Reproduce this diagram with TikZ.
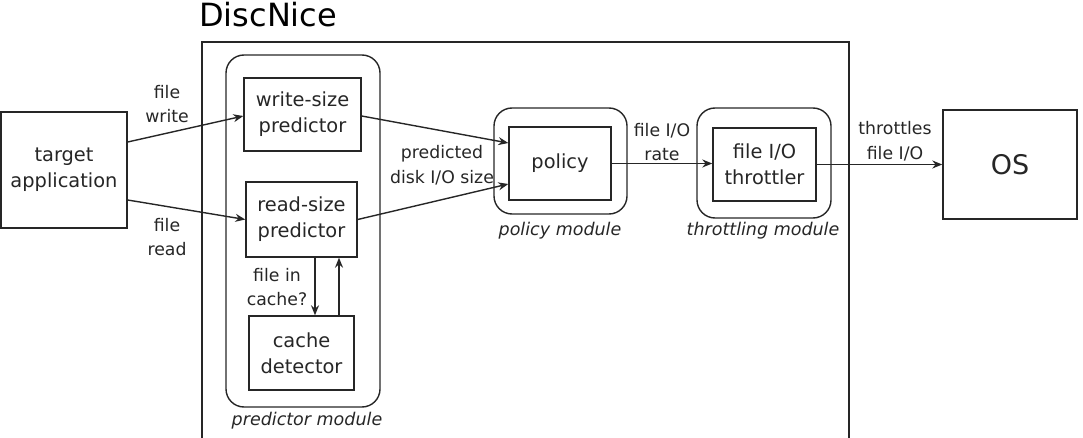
\documentclass[tikz,border=0pt]{standalone}
\usepackage{fontspec}
\setmainfont{DejaVu Sans}
\usetikzlibrary{arrows.meta,calc}
\definecolor{ink}{HTML}{262626}
\tikzset{
  blk/.style={draw=ink, line width=1.4pt, rectangle, inner sep=0pt, align=center,
    text=ink, font=\fontsize{19.4}{26}\selectfont},
  modbox/.style={draw=ink, line width=1.4pt, rounded corners=18pt},
  lbl/.style={inner sep=0pt, align=center, text=ink, font=\fontsize{17.3}{24.5}\selectfont},
  modlbl/.style={inner sep=0pt, text=ink, font=\fontsize{17.5}{22}\selectfont\itshape},
  conn/.style={draw=ink, line width=1.4pt, -{Stealth[length=10pt,width=8pt]}},
}
\begin{document}
\begin{tikzpicture}[x=1pt,y=-1pt]
\useasboundingbox (0,0) rectangle (1083,438);
% outer system box (open at bottom)
\draw[ink, line width=1.4pt] (202,445) -- (202,42) -- (849,42) -- (849,445);
\node[anchor=base west, inner sep=0pt, font=\fontsize{32}{36}\selectfont] (title) at (199,27) {DiscNice};
% module frames
\draw[modbox] (226,55) rectangle (380,407);
\draw[modbox] (494,108) rectangle (627,214);
\draw[modbox] (697,108) rectangle (831,218);
% blocks
\node[blk, minimum width=126pt, minimum height=116pt] (target) at (64,170) {target\\application};
\node[blk, minimum width=117pt, minimum height=73pt] (write) at (302.5,114.5) {write-size\\predictor};
\node[blk, minimum width=111pt, minimum height=75pt] (read) at (301.5,219.5) {read-size\\predictor};
\node[blk, minimum width=105pt, minimum height=74pt] (cache) at (301.5,353) {cache\\detector};
\node[blk, minimum width=102pt, minimum height=73pt] (policy) at (560,163.5) {policy};
\node[blk, minimum width=103pt, minimum height=73pt] (thr) at (764.5,164.5) {file I/O\\throttler};
\node[blk, minimum width=134pt, minimum height=109pt, font=\fontsize{27}{30}\selectfont] (os) at (1010,164.5) {OS};
% connectors
\draw[conn] ($(target.east)+(0,-28)$) -- ($(write.west)+(0,1.5)$);
\draw[conn] ($(target.east)+(0,30)$) -- (read.west);
\draw[conn] ($(write.east)+(0,1.5)$) -- ($(policy.west)+(0,-20.5)$);
\draw[conn] (read.east) -- ($(policy.west)+(0,20.5)$);
\draw[conn] ($(read.south)+(13.5,0)$) -- ($(cache.north)+(13.5,0)$);
\draw[conn] ($(cache.north)+(37.5,0)$) -- ($(read.south)+(37.5,0)$);
\draw[conn] (policy.east) -- (policy.east -| thr.west);
\draw[conn] (thr.east) -- (thr.east -| os.west);
% labels
\node[lbl] (lw) at (167,104) {file\\write};
\node[lbl] (lr) at (167,237) {file\\read};
\node[lbl] (lp) at (442,165) {predicted\\disk I/O size};
\node[lbl] (lc) at (277,287) {file in\\cache?};
\node[lbl] (lrate) at (662,142) {file I/O\\rate};
\node[lbl] (lt) at (895,141) {throttles\\file I/O};
\node[modlbl] (mp) at (307,421) {predictor module};
\node[modlbl] (mpol) at (560,231) {policy module};
\node[modlbl] (mthr) at (763,231) {throttling module};
\end{tikzpicture}
\end{document}
